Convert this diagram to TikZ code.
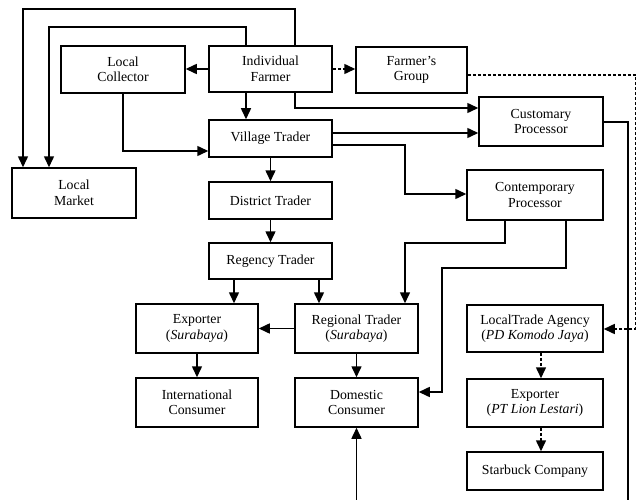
\documentclass[tikz,border=0pt]{standalone}
\usepackage{fontspec}
\setmainfont{Liberation Serif}
\usetikzlibrary{arrows.meta}
\begin{document}
\begin{tikzpicture}[x=1pt,y=-1pt,
  box/.style={draw, line width=1.5pt, rectangle, inner sep=0pt, align=center,
    font=\fontsize{13.8}{15.5}\selectfont},
  arr/.style={line width=1.5pt, -{Triangle[length=11pt,width=10pt]}},
  darr/.style={arr, dash pattern=on 3pt off 2pt},
  dln/.style={line width=1.5pt, dash pattern=on 3pt off 2pt}]
\fill[white] (0,0) rectangle (637,500);
\useasboundingbox (0,0) rectangle (637,500);
% nodes
\node[box, minimum width=124pt, minimum height=47pt] (lc) at (123,69.5) {Local\\Collector};
\node[box, minimum width=123pt, minimum height=46pt] (if) at (270.5,69) {Individual\\Farmer};
\node[box, minimum width=111pt, minimum height=46pt] (fg) at (411.5,70) {Farmer’s\\Group};
\node[box, minimum width=123pt, minimum height=37pt] (vt) at (270.5,138.5) {Village Trader};
\node[box, minimum width=124pt, minimum height=49pt] (cp) at (541,121.5) {Customary\\Processor};
\node[box, minimum width=124pt, minimum height=50pt] (lm) at (74,193) {Local\\Market};
\node[box, minimum width=123pt, minimum height=37pt] (dt) at (270.5,200.5) {District Trader};
\node[box, minimum width=123pt, minimum height=36pt] (rt) at (270.5,261) {Regency Trader};
\node[box, minimum width=136pt, minimum height=50pt] (conp) at (535,195) {Contemporary\\Processor};
\node[box, minimum width=122pt, minimum height=49pt] (ex) at (197,328.5) {Exporter\\(\textit{Surabaya})};
\node[box, minimum width=123pt, minimum height=49pt] (rg) at (356.5,328.5) {Regional Trader\\(\textit{Surabaya})};
\node[box, minimum width=122pt, minimum height=49pt] (ic) at (197,402.5) {International\\Consumer};
\node[box, minimum width=123pt, minimum height=49pt] (dc) at (356.5,402.5) {Domestic\\Consumer};
\node[box, minimum width=136pt, minimum height=47pt] (lta) at (535,328.5) {LocalTrade Agency\\(\textit{PD Komodo Jaya})};
\node[box, minimum width=136pt, minimum height=48pt] (ept) at (535,403) {Exporter\\(\textit{PT Lion Lestari})};
\node[box, minimum width=136pt, minimum height=38pt] (sb) at (535,471) {Starbuck Company};
% helper coordinates
\coordinate (t1) at (295,9);   \coordinate (t1l) at (23,9);
\coordinate (t2) at (246,27);  \coordinate (t2l) at (49,27);
\coordinate (c5) at (295,108);
\coordinate (c7) at (123,151);
\coordinate (c8) at (0,133);
\coordinate (c9a) at (405,145); \coordinate (c9b) at (405,194);
\coordinate (c12) at (234,0);
\coordinate (c13) at (319,0);
\coordinate (c14a) at (505,243); \coordinate (c14b) at (405,243);
\coordinate (c15a) at (566,268); \coordinate (c15b) at (442,268); \coordinate (c15c) at (442,392);
\coordinate (c19a) at (628,122); \coordinate (c19b) at (628,505); \coordinate (c19c) at (356.5,505);
\coordinate (c20a) at (635.5,75); \coordinate (c20b) at (635.5,329);
\coordinate (c21) at (541,0);
% connectors
\draw[arr] (if.north -| t1) -- (t1) -- (t1l) -- (lm.north -| t1l);
\draw[arr] (if.north -| t2) -- (t2) -- (t2l) -- (lm.north -| t2l);
\draw[arr] (if.west) -- (if.west -| lc.east);
\draw[arr] (if.south -| t2) -- (vt.north -| t2);
\draw[arr] (if.south -| c5) -- (c5) -- (cp.west |- c5);
\draw[darr] (if.east) -- (if.east -| fg.west);
\draw[arr] (lc.south) |- (vt.west |- c7);
\draw[arr] (vt.east |- c8) -- (cp.west |- c8);
\draw[arr] (vt.east |- c9a) -- (c9a) -- (c9b) -- (conp.west |- c9b);
\draw[arr] (vt.south) -- (dt.north);
\draw[arr] (dt.south) -- (rt.north);
\draw[arr] (rt.south -| c12) -- (ex.north -| c12);
\draw[arr] (rt.south -| c13) -- (rg.north -| c13);
\draw[arr] (conp.south -| c14a) -- (c14a) -- (c14b) -- (rg.north -| c14b);
\draw[arr] (conp.south -| c15a) -- (c15a) -- (c15b) -- (c15c) -- (dc.east |- c15c);
\draw[arr] (rg.west) -- (ex.east);
\draw[arr] (rg.south) -- (dc.north);
\draw[arr] (ex.south) -- (ic.north);
\draw[arr] (cp.east |- c19a) -- (c19a) -- (c19b) -- (c19c) -- (dc.south);
\draw[darr] (fg.east |- c20a) -- (c20a) -- (c20b) -- (lta.east |- c20b);
\draw[darr] (lta.south -| c21) -- (ept.north -| c21);
\draw[darr] (ept.south -| c21) -- (sb.north -| c21);
\end{tikzpicture}
\end{document}
